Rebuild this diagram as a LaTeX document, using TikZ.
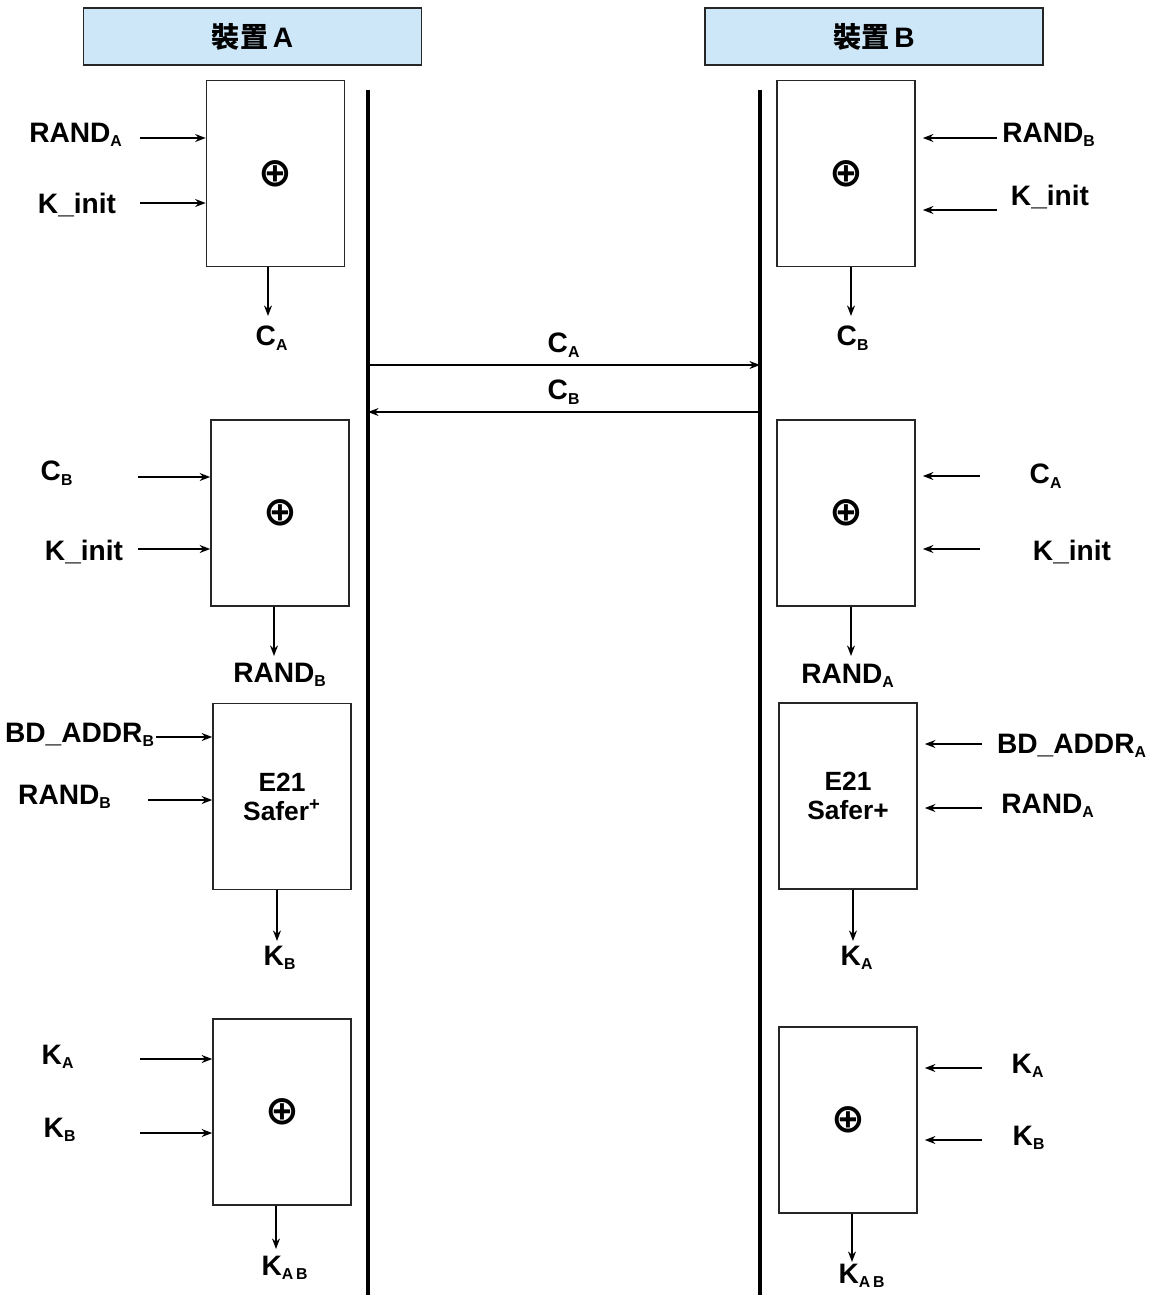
\documentclass[tikz,border=0pt]{standalone}
\usepackage{fontspec}
\setmainfont{Liberation Sans}
\newfontfamily\cjk{Noto Sans CJK TC}
\newfontfamily\symfont{DejaVu Sans}
\usetikzlibrary{arrows.meta}
\definecolor{hdrblue}{HTML}{CDE7F9}
\newcommand{\lowidx}[1]{\textsubscript{\fontsize{9}{9}\selectfont #1}}
\newcommand{\xorsym}{{\symfont\bfseries\fontsize{23}{23}\selectfont ⊕}}
\tikzset{
	blk/.style={draw=black!85, line width=0.9pt, minimum width=2.76cm, minimum height=3.72cm, inner sep=0pt, align=center, font=\bfseries\fontsize{15}{16.5}\selectfont},
	hdr/.style={draw=black!85, line width=1pt, fill=hdrblue, minimum width=6.76cm, minimum height=1.14cm, font=\bfseries\fontsize{16}{17}\selectfont},
	arr/.style={-{Stealth[length=6pt,width=4.5pt]}, line width=1pt},
	life/.style={line width=1.8pt},
	lbl/.style={inner sep=0pt, font=\bfseries\fontsize{16}{17}\selectfont}
}
\begin{document}
\begin{tikzpicture}[x=0.02cm, y=-0.02cm]
\useasboundingbox (0,0) rectangle (1151,1295);

% headers and lifelines
\node[hdr] (devA) at (252.5,36.5) {{\cjk\bfseries 裝置}\,A};
\node[hdr] (devB) at (874,36.5) {{\cjk\bfseries 裝置}\,B};
\foreach \s / \x in {a/368, b/760} {
	\coordinate (\s-top) at (\x,90);
	\coordinate (\s-bot) at (\x,1295);
	\draw[life] (\s-top) -- (\s-bot);
}

% device A
\node[blk] (a1) at (275.5,173.5) {\xorsym};
\node[blk] (a2) at (280,513) {\xorsym};
\node[blk] (a3) at (282,796.5) {E21\\Safer\textsuperscript{+}};
\node[blk] (a4) at (282,1112) {\xorsym};

\node[lbl] (a1-in1) at (76,135) {RAND\lowidx{A}};
\node[lbl] (a1-in2) at (77,205) {K\_init};
\node[lbl] (a2-in1) at (57,473) {C\lowidx{B}};
\node[lbl] (a2-in2) at (84,552) {K\_init};
\node[lbl] (a3-in1) at (80,735) {BD\_ADDR\lowidx{B}};
\node[lbl] (a3-in2) at (65,797) {RAND\lowidx{B}};
\node[lbl] (a4-in1) at (58,1057) {K\lowidx{A}};
\node[lbl] (a4-in2) at (60,1130) {K\lowidx{B}};

\coordinate (a1-s1) at (140,138);
\coordinate (a1-s2) at (140,203);
\coordinate (a2-s1) at (138,477);
\coordinate (a2-s2) at (138,549);
\coordinate (a3-s1) at (156,737);
\coordinate (a3-s2) at (148,800);
\coordinate (a4-s1) at (140,1059);
\coordinate (a4-s2) at (140,1133);
\foreach \b in {a1,a2,a3,a4} {
	\draw[arr] (\b-s1) -- (\b.west |- \b-s1);
	\draw[arr] (\b-s2) -- (\b.west |- \b-s2);
}

\node[lbl] (a1-out) at (272,338) {C\lowidx{A}};
\node[lbl] (a2-out) at (280,675) {RAND\lowidx{B}};
\node[lbl] (a3-out) at (280,958) {K\lowidx{B}};
\node[lbl] (a4-out) at (285,1268) {K\lowidx{A\,B}};
\draw[arr] (a1.south -| 268,0) -- (268,316);
\draw[arr] (a2.south -| 274,0) -- (274,656);
\draw[arr] (a3.south -| 277,0) -- (277,941);
\draw[arr] (a4.south -| 276,0) -- (276,1249);

% device B
\node[blk] (b1) at (846,173.5) {\xorsym};
\node[blk] (b2) at (846,513) {\xorsym};
\node[blk] (b3) at (848,796) {E21\\Safer+};
\node[blk] (b4) at (848,1120) {\xorsym};

\node[lbl] (b1-in1) at (1049,135) {RAND\lowidx{B}};
\node[lbl] (b1-in2) at (1050,197) {K\_init};
\node[lbl] (b2-in1) at (1046,476) {C\lowidx{A}};
\node[lbl] (b2-in2) at (1072,552) {K\_init};
\node[lbl] (b3-in1) at (1072,746) {BD\_ADDR\lowidx{A}};
\node[lbl] (b3-in2) at (1048,806) {RAND\lowidx{A}};
\node[lbl] (b4-in1) at (1028,1066) {K\lowidx{A}};
\node[lbl] (b4-in2) at (1029,1138) {K\lowidx{B}};

\coordinate (b1-s1) at (997,138);
\coordinate (b1-s2) at (997,210);
\coordinate (b2-s1) at (980,476);
\coordinate (b2-s2) at (980,549);
\coordinate (b3-s1) at (982,744);
\coordinate (b3-s2) at (982,808);
\coordinate (b4-s1) at (982,1068);
\coordinate (b4-s2) at (982,1140);
\foreach \b in {b1,b2,b3,b4} {
	\draw[arr] (\b-s1) -- ([xshift=4pt]\b.east |- \b-s1);
	\draw[arr] (\b-s2) -- ([xshift=4pt]\b.east |- \b-s2);
}

\node[lbl] (b1-out) at (853,338) {C\lowidx{B}};
\node[lbl] (b2-out) at (848,676) {RAND\lowidx{A}};
\node[lbl] (b3-out) at (857,958) {K\lowidx{A}};
\node[lbl] (b4-out) at (862,1276) {K\lowidx{A\,B}};
\draw[arr] (b1.south -| 851,0) -- (851,316);
\draw[arr] (b2.south -| 851,0) -- (851,656);
\draw[arr] (b3.south -| 853,0) -- (853,941);
\draw[arr] (b4.south -| 852,0) -- (852,1262);

% exchange
\coordinate (ca-a) at (368,365);
\coordinate (ca-b) at (760,365);
\coordinate (cb-a) at (368,412);
\coordinate (cb-b) at (760,412);
\draw[arr] (ca-a) -- (ca-b) node[lbl, midway, above=4pt] (ca) {C\lowidx{A}};
\draw[arr] (cb-b) -- (cb-a) node[lbl, midway, above=4pt] (cb) {C\lowidx{B}};
\end{tikzpicture}
\end{document}
